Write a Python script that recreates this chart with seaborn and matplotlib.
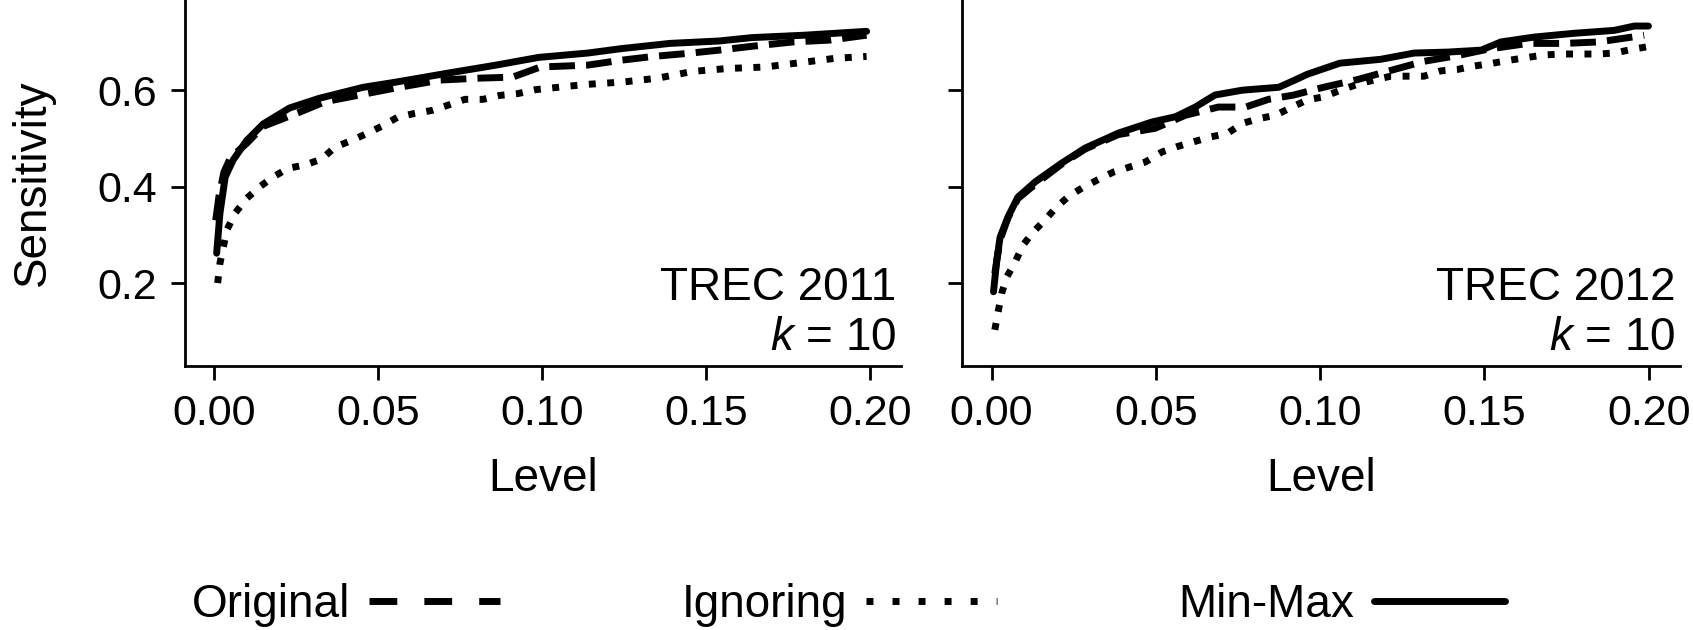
import matplotlib
matplotlib.use("Agg")
import matplotlib.pyplot as plt
from matplotlib.lines import Line2D
import seaborn as sns

# TREC 2011
orig_2011_x = [0.0005, 0.0015, 0.003, 0.005, 0.010, 0.015, 0.0256, 0.0338, 0.0466, 0.0557,
               0.069, 0.081, 0.091, 0.0995, 0.114, 0.124, 0.134, 0.144, 0.154, 0.164,
               0.1765, 0.188, 0.199]
orig_2011_y = [0.33, 0.38, 0.43, 0.46, 0.49, 0.525, 0.553, 0.576, 0.593, 0.605,
               0.621, 0.625, 0.627, 0.648, 0.652, 0.662, 0.670, 0.676, 0.683, 0.691,
               0.70, 0.704, 0.714]
ign_2011_x = [0.0011, 0.0018, 0.0039, 0.0064, 0.010, 0.014, 0.018, 0.0226, 0.0277, 0.0328,
              0.0369, 0.042, 0.0466, 0.0511, 0.056, 0.0613, 0.0664, 0.0714, 0.0765, 0.082,
              0.087, 0.0927, 0.098, 0.1035, 0.1136, 0.1248, 0.1354, 0.146, 0.1567, 0.168,
              0.1787, 0.1893, 0.199]
ign_2011_y = [0.20, 0.241, 0.31, 0.345, 0.376, 0.40, 0.42, 0.438, 0.445, 0.457,
              0.482, 0.496, 0.510, 0.525, 0.544, 0.552, 0.558, 0.569, 0.581, 0.581,
              0.589, 0.593, 0.601, 0.605, 0.612, 0.617, 0.625, 0.639, 0.645, 0.648,
              0.657, 0.666, 0.670]
mm_2011_x = [0.0008, 0.0018, 0.0034, 0.0058, 0.010, 0.015, 0.023, 0.032, 0.0455, 0.0557,
             0.071, 0.086, 0.099, 0.114, 0.124, 0.139, 0.154, 0.164, 0.180, 0.199]
mm_2011_y = [0.262, 0.345, 0.42, 0.455, 0.496, 0.53, 0.563, 0.583, 0.606, 0.617,
             0.635, 0.652, 0.668, 0.677, 0.686, 0.697, 0.702, 0.709, 0.714, 0.722]

# TREC 2012
orig_2012_x = [0.001, 0.0026, 0.005, 0.008, 0.0133, 0.0214, 0.0285, 0.0386, 0.0498, 0.059,
               0.069, 0.0773, 0.0843, 0.092, 0.101, 0.1114, 0.1215, 0.1317, 0.142, 0.151,
               0.1633, 0.1744, 0.1846, 0.1948, 0.1986]
orig_2012_y = [0.22, 0.29, 0.335, 0.375, 0.405, 0.447, 0.478, 0.508, 0.521, 0.548,
               0.565, 0.565, 0.581, 0.59, 0.606, 0.622, 0.641, 0.66, 0.672, 0.685,
               0.697, 0.697, 0.70, 0.71, 0.714]
ign_2012_x = [0.001, 0.002, 0.0031, 0.0046, 0.0072, 0.0096, 0.0127, 0.0163, 0.0194, 0.0233,
              0.0275, 0.032, 0.037, 0.0417, 0.0468, 0.0519, 0.0565, 0.0615, 0.0666, 0.0717,
              0.0763, 0.0813, 0.0864, 0.0915, 0.0961, 0.101, 0.1062, 0.1113, 0.1163, 0.1215,
              0.1316, 0.1367, 0.1418, 0.1468, 0.1525, 0.1575, 0.1632, 0.168, 0.1733, 0.1845,
              0.1895, 0.1952, 0.1995]
ign_2012_y = [0.103, 0.14, 0.179, 0.212, 0.244, 0.279, 0.306, 0.331, 0.355, 0.379,
              0.397, 0.413, 0.43, 0.44, 0.451, 0.472, 0.483, 0.493, 0.503, 0.51,
              0.531, 0.541, 0.548, 0.565, 0.58, 0.586, 0.60, 0.612, 0.621, 0.629,
              0.629, 0.640, 0.643, 0.65, 0.656, 0.662, 0.668, 0.673, 0.675, 0.675,
              0.677, 0.685, 0.69]
mm_2012_x = [0.0006, 0.0016, 0.0026, 0.005, 0.008, 0.0133, 0.0214, 0.0285, 0.0386, 0.0488,
             0.056, 0.062, 0.068, 0.0763, 0.0874, 0.092, 0.0961, 0.106, 0.1184, 0.1286,
             0.1388, 0.149, 0.155, 0.165, 0.1773, 0.1895, 0.1956, 0.1999]
mm_2012_y = [0.182, 0.248, 0.295, 0.337, 0.378, 0.41, 0.449, 0.48, 0.511, 0.534,
             0.545, 0.565, 0.59, 0.60, 0.606, 0.620, 0.633, 0.656, 0.664, 0.677,
             0.679, 0.683, 0.70, 0.71, 0.718, 0.724, 0.733, 0.733]

panels = ["TREC 2011", "TREC 2012"]
methods = ["Original", "Ignoring", "Min-Max"]
x_ticks = [0.00, 0.05, 0.10, 0.15, 0.20]
y_ticks = [0.2, 0.4, 0.6]

sns.set_style("ticks")
plt.rcParams['font.family'] = ['Liberation Sans', 'DejaVu Sans']
plt.rcParams['mathtext.fontset'] = 'custom'
plt.rcParams['mathtext.rm'] = 'Liberation Sans'
plt.rcParams['mathtext.it'] = 'Liberation Sans:italic'
plt.rcParams['font.size'] = 31
plt.rcParams['axes.labelsize'] = 33
plt.rcParams['text.color'] = 'black'
plt.rcParams['axes.labelcolor'] = 'black'
plt.rcParams['axes.linewidth'] = 2
plt.rcParams['xtick.major.width'] = 2
plt.rcParams['ytick.major.width'] = 2
plt.rcParams['xtick.major.size'] = 10
plt.rcParams['ytick.major.size'] = 10
plt.rcParams['xtick.major.pad'] = 10
plt.rcParams['ytick.major.pad'] = 10
plt.rcParams['xtick.color'] = 'black'
plt.rcParams['ytick.color'] = 'black'
plt.rcParams['axes.edgecolor'] = 'black'

fig = plt.figure(figsize=(16.93, 6.30), dpi=100)
ax1 = fig.add_axes([0.109, 0.419, 0.4232, 0.581])
ax2 = fig.add_axes([0.5682, 0.419, 0.4241, 0.581], sharey=ax1)

series = [
    (ax1, orig_2011_x, orig_2011_y, ign_2011_x, ign_2011_y, mm_2011_x, mm_2011_y),
    (ax2, orig_2012_x, orig_2012_y, ign_2012_x, ign_2012_y, mm_2012_x, mm_2012_y),
]

for (ax, ox, oy, ix, iy, mx, my), name in zip(series, panels):
    sns.lineplot(x=ox, y=oy, ax=ax, color='black', lw=5, linestyle='--')
    sns.lineplot(x=ix, y=iy, ax=ax, color='black', lw=5, linestyle=':')
    sns.lineplot(x=mx, y=my, ax=ax, color='black', lw=5)
    ax.set_xticks(x_ticks)
    ax.set_xticklabels([f"{t:.2f}" for t in x_ticks])
    ax.set_xlim(-0.009, 0.2095)
    ax.set_xlabel('Level', labelpad=17)
    ax.text(0.994, 0.18, name, transform=ax.transAxes, ha='right', va='baseline', fontsize=33)
    ax.text(0.994, 0.043, r'$k$ = 10', transform=ax.transAxes, ha='right', va='baseline',
            fontsize=33)
    sns.despine(ax=ax)

ax1.set_ylim(0.028, 0.787)
ax1.set_yticks(y_ticks)
ax1.set_yticklabels([f"{t:.1f}" for t in y_ticks])
ax1.set_ylabel('Sensitivity')
ax1.yaxis.set_label_coords(-0.181, 0.5)
ax2.tick_params(axis='y', labelleft=False)
ax2.set_ylabel('')

# legend handles use wider gaps than the plotted lines
handles = [
    Line2D([], [], color='black', lw=5, linestyle=(0, (4.0, 3.9))),
    Line2D([], [], color='black', lw=5, linestyle=(0, (1.0, 2.75))),
    Line2D([], [], color='black', lw=5),
]
fig.legend(handles, methods, loc='center', bbox_to_anchor=(0.501, 0.039), ncol=3,
           frameon=False, markerfirst=False, handlelength=2.86, handletextpad=0.42,
           columnspacing=3.95, fontsize=33)

fig.savefig('out.png', dpi=100)
